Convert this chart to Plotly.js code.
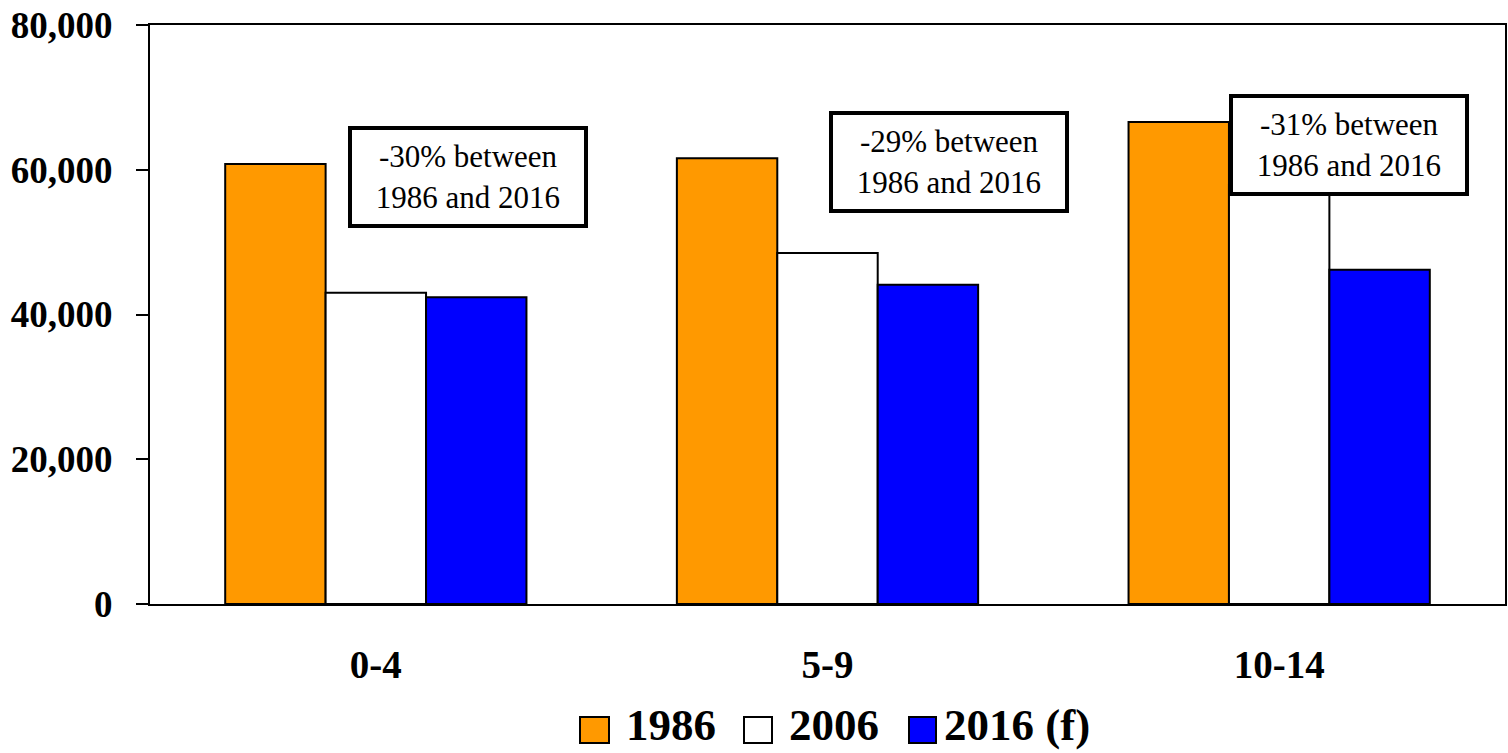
<!DOCTYPE html>
<html>
<head>
<meta charset="utf-8">
<script src="https://cdn.plot.ly/plotly-3.0.1.min.js"></script>
<style>html,body{margin:0;padding:0;background:#fff;}#chart{width:1508px;height:753px;}</style>
</head>
<body>
<div id="chart"></div>
<script>
const categories = ["0-4", "5-9", "10-14"];
const seriesNames = ["1986", "2006", "2016 (f)"];
const values1986 = [60800, 61600, 66600];
const values2006 = [43000, 48500, 58000];
const values2016 = [42400, 44100, 46200];
const notes = ["-30% between<br>1986 and 2016", "-29% between<br>1986 and 2016", "-31% between<br>1986 and 2016"];
const yTicks = [0, 20000, 40000, 60000, 80000];

const FONT = "Liberation Serif, Times New Roman, Times, serif";
const colors = ["#FF9900", "#FFFFFF", "#0000FF"];
const allValues = [values1986, values2006, values2016];

const W = 1508, H = 753;
const M = {l: 150, r: 3, t: 25, b: 149};
const pw = W - M.l - M.r, ph = H - M.t - M.b;
const px = x => (x - M.l) / pw;
const py = y => (H - M.b - y) / ph;

const traces = allValues.map((v, i) => ({
  type: "bar",
  name: seriesNames[i],
  x: categories,
  y: v,
  marker: {color: colors[i], line: {color: "#000", width: 2}},
  hoverinfo: "x+y+name"
}));

const noteCenters = [[468, 177], [949, 162], [1349, 145]];
const annotations = notes.map((t, i) => ({
  text: t,
  xref: "paper", yref: "paper",
  x: px(noteCenters[i][0]), y: py(noteCenters[i][1]),
  xanchor: "center", yanchor: "middle",
  showarrow: false,
  align: "center",
  width: 216, height: 78,
  font: {family: FONT, size: 31, color: "#000"},
  bgcolor: "#fff",
  bordercolor: "#000",
  borderwidth: 4,
  borderpad: 8
}));

// manual legend (large squares)
const legSquares = [[580, 609], [744, 772], [909, 936]];
const legTextX = [624, 787, 942];
const legY = [717, 743];
const shapes = [];
seriesNames.forEach((n, i) => {
  shapes.push({
    type: "rect", xref: "paper", yref: "paper",
    x0: px(legSquares[i][0]), x1: px(legSquares[i][1]),
    y0: py(legY[1]), y1: py(legY[0]),
    fillcolor: colors[i], line: {color: "#000", width: 2}
  });
  annotations.push({
    text: "<b>" + n + "</b>",
    xref: "paper", yref: "paper",
    x: px(legTextX[i]), y: py(725),
    xanchor: "left", yanchor: "middle",
    showarrow: false,
    font: {family: FONT, size: 45, color: "#000"}
  });
});

const layout = {
  width: W, height: H,
  margin: M,
  paper_bgcolor: "#fff",
  plot_bgcolor: "#fff",
  barmode: "group",
  bargap: 0.333,
  bargroupgap: 0,
  showlegend: false,
  font: {family: FONT, color: "#000"},
  xaxis: {
    type: "category",
    showline: true, linecolor: "#000", linewidth: 2, mirror: true,
    ticks: "outside", ticklen: 25, tickcolor: "rgba(0,0,0,0)",
    tickfont: {family: FONT, size: 39, color: "#000", weight: "bold"},
    showgrid: false, zeroline: false, automargin: false
  },
  yaxis: {
    range: [0, 80000],
    tickvals: yTicks,
    tickformat: ",",
    showline: true, linecolor: "#000", linewidth: 2, mirror: true,
    ticks: "outside", ticklen: 12, tickwidth: 2, tickcolor: "#000",
    ticklabelstandoff: 16,
    tickfont: {family: FONT, size: 37, color: "#000", weight: "bold"},
    showgrid: false, zeroline: false, automargin: false
  },
  shapes: shapes,
  annotations: annotations
};

Plotly.newPlot("chart", traces, layout, {displayModeBar: false, staticPlot: true});
</script>
</body>
</html>
